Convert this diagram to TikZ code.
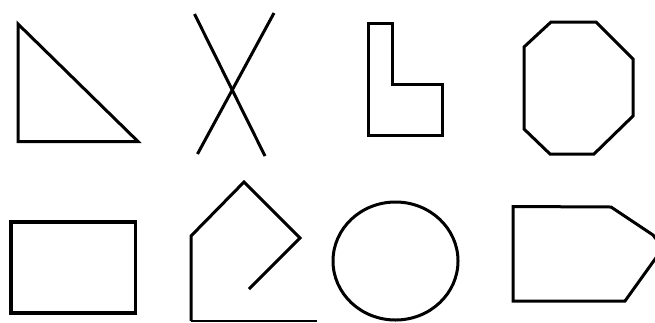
\documentclass[tikz,border=0pt]{standalone}
\begin{document}
\begin{tikzpicture}[x=1bp,y=-1bp,
  outline/.style={draw=black,line width=3bp,line join=miter},
  thinline/.style={draw=black,line width=1.4bp}]
\fill[white] (0,0) rectangle (655,322);
\useasboundingbox (0,0) rectangle (655,322);
\clip (0,0) rectangle (655,322);
% triangle
\draw[outline] (18,24) -- (18,141.5) -- (138,141.5) -- cycle;
% X
\draw[outline] (194.5,14) -- (265,156);
\draw[outline] (274,13) -- (197.5,154);
% L shape
\draw[outline] (368,23.5) -- (392,23.5) -- (392,84.5) -- (442,84.5) -- (442,135.5) -- (368,135.5) -- cycle;
% octagon
\draw[outline] (551,22) -- (596,22) -- (633,59) -- (633,116) -- (594,154) -- (550,154) -- (524,129) -- (524,47) -- cycle;
% rectangle
\draw[outline,line width=3.5bp] (11,222) rectangle (135.5,313);
% open pentagon
\draw[outline] (249,289) -- (300,238) -- (244,182) -- (191,236) -- (191,321);
\draw[thinline] (191,321) -- (317,321);
% circle
\draw[outline] (395.5,261) ellipse [x radius=62.5, y radius=59];
% arrow pentagon
\draw[outline] (513,206.5) -- (611,207) -- (653,235) -- (663,248) -- (625,301) -- (513,301) -- cycle;
\end{tikzpicture}
\end{document}
